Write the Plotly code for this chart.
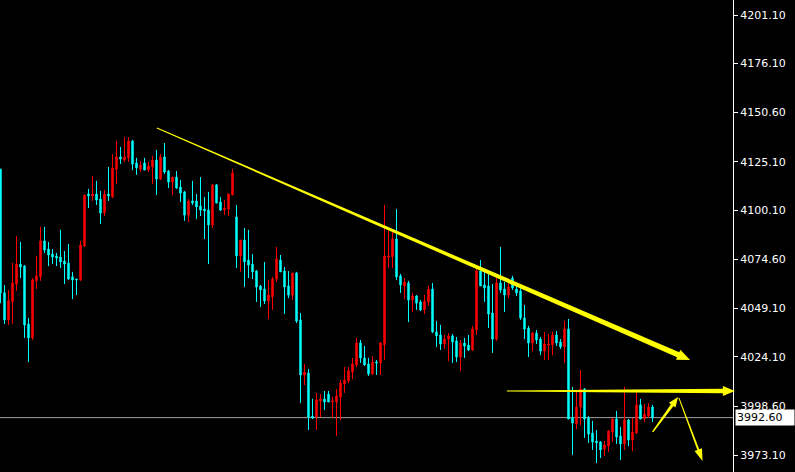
import plotly.graph_objects as go

# ---------------- data ----------------
opens = [4121.3, 4057.3, 4043.2, 4052.6, 4061.8, 4072.1, 4071.1, 4041.1, 4033.9, 4063.5,
         4065.5, 4084.1, 4079.9, 4077.3, 4076.3, 4075.8, 4073.7, 4072.6, 4065.5, 4064.4,
         4063.9, 4081.5, 4108.4, 4107.4, 4108.4, 4105.8, 4098.6, 4108.4, 4106.9, 4121.3,
         4127.6, 4126.0, 4127.1, 4135.9, 4124.5, 4121.3, 4124.5, 4120.8, 4122.4, 4126.0,
         4116.2, 4127.6, 4120.3, 4114.6, 4117.2, 4112.0, 4109.5, 4097.5, 4104.8, 4104.8,
         4102.2, 4100.6, 4100.1, 4092.4, 4113.1, 4104.3, 4100.1, 4100.6, 4107.9, 4096.5,
         4076.3, 4084.6, 4074.2, 4072.1, 4068.5, 4060.8, 4059.2, 4053.0, 4055.1, 4064.4,
         4074.2, 4068.5, 4060.8, 4056.1, 4067.5, 4043.2, 4014.7, 4015.7, 3993.4, 3992.9,
         4001.2, 4002.3, 4004.8, 4000.7, 4000.7, 4003.3, 4010.0, 4011.6, 4016.2, 4019.9,
         4031.3, 4023.5, 4020.4, 4015.2, 4021.4, 4020.9, 4030.2, 4075.8, 4075.8, 4085.1,
         4066.0, 4060.8, 4062.3, 4053.5, 4055.6, 4052.5, 4048.4, 4052.5, 4059.2, 4037.0,
         4035.4, 4030.7, 4033.3, 4034.9, 4032.3, 4024.0, 4031.3, 4030.2, 4027.6, 4038.0,
         4068.5, 4061.3, 4060.8, 4046.8, 4033.3, 4062.3, 4059.2, 4056.1, 4064.9, 4059.2,
         4058.2, 4044.2, 4039.0, 4031.3, 4036.4, 4033.3, 4027.1, 4030.2, 4030.2, 4035.4,
         4031.8, 4029.2, 4038.5, 3992.4, 3989.3, 3998.1, 4007.4, 3992.4, 3984.6, 3980.5,
         3980.0, 3976.4, 3977.9, 3985.2, 3991.9, 3983.1, 3979.0, 3991.4, 3981.0, 3984.6,
         3999.2, 3991.9, 3993.4, 3998.1]
highs = [4121.3, 4061.3, 4058.7, 4072.8, 4086.7, 4083.6, 4071.6, 4044.2, 4064.9, 4076.3,
         4091.4, 4091.4, 4083.6, 4079.9, 4077.9, 4089.8, 4078.9, 4082.5, 4068.1, 4064.4,
         4084.1, 4107.9, 4111.0, 4117.8, 4115.2, 4110.0, 4110.5, 4122.4, 4129.1, 4135.9,
         4132.8, 4137.9, 4137.9, 4136.4, 4127.1, 4125.5, 4127.1, 4125.0, 4128.1, 4131.2,
         4129.1, 4134.8, 4120.8, 4117.2, 4120.3, 4115.7, 4110.0, 4105.8, 4115.2, 4108.4,
         4117.2, 4106.9, 4109.5, 4113.6, 4113.6, 4106.9, 4105.3, 4108.9, 4121.3, 4102.7,
         4084.6, 4090.8, 4089.8, 4077.3, 4069.1, 4061.3, 4073.2, 4063.9, 4065.5, 4081.0,
         4076.8, 4070.6, 4068.5, 4067.5, 4068.1, 4046.8, 4020.4, 4017.8, 4002.3, 4005.4,
         4004.8, 4006.4, 4006.4, 4003.3, 4007.4, 4012.1, 4018.8, 4018.8, 4023.5, 4033.9,
         4032.8, 4029.7, 4023.5, 4024.5, 4022.5, 4031.8, 4102.7, 4089.3, 4088.7, 4100.6,
         4067.0, 4064.9, 4063.4, 4057.2, 4056.1, 4053.5, 4056.1, 4060.8, 4062.3, 4042.6,
         4040.6, 4035.4, 4036.4, 4035.9, 4034.4, 4032.8, 4033.9, 4035.4, 4040.1, 4071.6,
         4074.2, 4069.1, 4067.0, 4061.8, 4064.9, 4081.0, 4062.9, 4062.3, 4066.0, 4060.8,
         4060.8, 4050.9, 4040.1, 4037.0, 4038.0, 4034.4, 4037.0, 4035.9, 4037.0, 4037.5,
         4033.3, 4042.6, 4043.7, 4008.5, 4006.4, 4017.3, 4007.9, 3993.4, 3990.9, 3986.2,
         3980.5, 3980.5, 3986.2, 3992.4, 3996.1, 3987.8, 4008.5, 3991.9, 3992.4, 4005.9,
         4002.3, 3999.7, 4000.2, 3999.2]
lows = [4051.9, 4041.1, 4040.6, 4041.1, 4058.3, 4064.9, 4033.9, 4021.4, 4032.8, 4059.2,
        4063.4, 4077.9, 4071.1, 4072.1, 4071.1, 4070.1, 4061.8, 4063.9, 4054.0, 4056.1,
        4063.4, 4081.0, 4101.1, 4104.8, 4102.7, 4092.9, 4097.0, 4104.8, 4106.3, 4113.6,
        4123.9, 4125.0, 4125.0, 4120.8, 4118.3, 4119.8, 4120.8, 4119.8, 4113.6, 4107.9,
        4115.7, 4118.8, 4111.5, 4107.9, 4111.0, 4104.3, 4094.5, 4093.9, 4102.7, 4095.5,
        4097.0, 4085.1, 4072.1, 4090.8, 4103.7, 4099.6, 4097.5, 4097.0, 4107.9, 4070.1,
        4068.1, 4060.3, 4064.9, 4064.4, 4052.5, 4049.9, 4051.4, 4043.7, 4048.4, 4062.9,
        4068.1, 4046.3, 4054.5, 4053.5, 4041.6, 4000.2, 4009.5, 3986.2, 3991.9, 3986.2,
        3992.9, 3996.6, 4000.7, 3992.4, 3983.1, 3991.4, 4005.4, 4010.5, 4012.6, 4018.8,
        4020.9, 4019.4, 4014.2, 4014.7, 4014.7, 4014.7, 4022.5, 4070.1, 4070.1, 4063.9,
        4057.2, 4054.0, 4042.1, 4047.3, 4048.4, 4047.8, 4046.3, 4050.4, 4036.4, 4029.2,
        4027.6, 4028.2, 4021.9, 4020.9, 4021.4, 4016.8, 4023.5, 4027.1, 4027.1, 4035.4,
        4060.8, 4052.5, 4039.0, 4026.1, 4032.3, 4057.2, 4047.3, 4054.5, 4058.7, 4055.6,
        4043.2, 4033.3, 4024.0, 4027.1, 4030.7, 4025.0, 4022.5, 4022.5, 4025.0, 4029.7,
        4028.2, 4020.9, 3991.9, 3973.3, 3986.7, 3988.8, 3982.1, 3979.5, 3975.9, 3969.1,
        3971.7, 3972.7, 3974.8, 3980.0, 3979.0, 3970.7, 3975.9, 3977.9, 3975.3, 3984.1,
        3991.9, 3990.3, 3992.4, 3990.3]
closes = [4057.2, 4043.2, 4053.1, 4062.3, 4072.1, 4070.6, 4040.6, 4033.9, 4063.9, 4066.0,
          4084.1, 4079.4, 4076.8, 4075.8, 4075.3, 4073.2, 4072.1, 4064.4, 4063.9, 4063.9,
          4082.0, 4107.9, 4107.4, 4108.4, 4105.3, 4098.6, 4108.4, 4107.4, 4121.9, 4127.6,
          4126.5, 4127.6, 4135.9, 4123.9, 4121.9, 4123.4, 4120.8, 4122.9, 4126.0, 4116.2,
          4127.6, 4119.8, 4114.6, 4117.2, 4111.5, 4108.9, 4097.5, 4104.8, 4103.7, 4101.7,
          4100.1, 4099.6, 4092.4, 4113.1, 4103.7, 4100.1, 4101.1, 4108.4, 4119.3, 4076.3,
          4084.6, 4073.2, 4071.6, 4068.1, 4060.3, 4058.7, 4053.0, 4056.1, 4064.4, 4074.7,
          4068.1, 4060.3, 4056.1, 4067.5, 4042.6, 4014.7, 4016.2, 3992.9, 3992.4, 4001.8,
          4002.3, 4000.7, 4000.7, 4001.2, 4003.8, 4010.5, 4012.1, 4016.8, 4020.4, 4031.3,
          4023.5, 4019.9, 4015.2, 4021.4, 4020.9, 4031.3, 4076.3, 4076.3, 4085.1, 4065.5,
          4061.3, 4062.9, 4053.5, 4055.6, 4051.9, 4048.4, 4053.0, 4059.2, 4037.0, 4034.9,
          4030.7, 4033.3, 4034.9, 4031.8, 4024.0, 4031.3, 4029.7, 4027.6, 4038.5, 4068.5,
          4060.8, 4059.7, 4046.3, 4033.3, 4062.3, 4058.7, 4056.1, 4060.3, 4059.7, 4057.2,
          4044.2, 4038.5, 4031.3, 4036.4, 4032.8, 4027.1, 4030.7, 4030.7, 4035.4, 4031.3,
          4029.2, 4038.5, 3991.9, 3989.8, 3998.1, 4007.4, 3991.9, 3984.1, 3980.0, 3979.5,
          3975.9, 3978.4, 3985.7, 3991.9, 3982.6, 3979.0, 3991.4, 3981.0, 3985.2, 3999.2,
          3991.9, 3994.5, 3998.1, 3992.6]
bar_index = list(range(len(opens)))

tick_values = [4201.10, 4176.10, 4150.60, 4125.10, 4100.10, 4074.60, 4049.10, 4024.10, 3998.60, 3973.10]
tick_labels = ["%.2f" % v for v in tick_values]
last_price = 3992.60

# hand-drawn arrows: (start bar, start price, end bar, end price)
arrow_starts_x = [39.1, 126.6, 163.05, 169.6]
arrow_starts_y = [4142.6, 4006.4, 3985.2, 4002.8]
arrow_ends_x = [172.4, 183.6, 169.4, 175.5]
arrow_ends_y = [4022.5, 4006.4, 4003.3, 3970.2]

# ---------------- layout constants ----------------
W, H = 795, 472
PW, PH = 733, 472           # plot area in pixels
X_RANGE = [-0.125, 183.125]
Y_RANGE = [3964.45, 4208.87]

UP = "#ff0000"
DOWN = "#00ffff"
YELLOW = "#ffff00"

fig = go.Figure()
fig.add_trace(go.Candlestick(
    x=bar_index, open=opens, high=highs, low=lows, close=closes,
    increasing=dict(line=dict(color=UP, width=1), fillcolor=UP),
    decreasing=dict(line=dict(color=DOWN, width=1), fillcolor=DOWN),
    whiskerwidth=0, hoverinfo="skip", showlegend=False,
))


def to_px(xv, yv):
    px = (xv - X_RANGE[0]) / (X_RANGE[1] - X_RANGE[0]) * PW
    py = (Y_RANGE[1] - yv) / (Y_RANGE[1] - Y_RANGE[0]) * PH
    return px, py


def to_paper(px, py):
    return px / PW, 1 - py / PH


arrow_styles = [
    dict(w0=1.0, w1=5.5, hl=13, hw=5.5),
    dict(w0=1.2, w1=4.5, hl=12, hw=5.0),
    dict(w0=1.5, w1=3.2, hl=10, hw=4.0),
    dict(w0=1.0, w1=2.0, hl=12, hw=4.0),
]

shapes = []
for xs, ys, xe, ye, st in zip(arrow_starts_x, arrow_starts_y, arrow_ends_x, arrow_ends_y, arrow_styles):
    x0, y0 = to_px(xs, ys)
    x1, y1 = to_px(xe, ye)
    dx, dy = x1 - x0, y1 - y0
    ln = (dx * dx + dy * dy) ** 0.5
    ux, uy = dx / ln, dy / ln
    nx, ny = -uy, ux
    bx, by = x1 - ux * st["hl"], y1 - uy * st["hl"]
    pts = [
        (x0 + nx * st["w0"] / 2, y0 + ny * st["w0"] / 2),
        (bx + nx * st["w1"] / 2, by + ny * st["w1"] / 2),
        (bx + nx * st["hw"], by + ny * st["hw"]),
        (x1, y1),
        (bx - nx * st["hw"], by - ny * st["hw"]),
        (bx - nx * st["w1"] / 2, by - ny * st["w1"] / 2),
        (x0 - nx * st["w0"] / 2, y0 - ny * st["w0"] / 2),
    ]
    path = ""
    for i, (px, py) in enumerate(pts):
        qx, qy = to_paper(px, py)
        path += ("M" if i == 0 else "L") + "%.5f,%.5f" % (qx, qy)
    path += "Z"
    shapes.append(dict(type="path", path=path, xref="paper", yref="paper",
                       fillcolor=YELLOW, line=dict(width=0), layer="above"))

# current price line
shapes.insert(0, dict(type="line", xref="paper", yref="y", x0=0, x1=1,
                      y0=last_price, y1=last_price,
                      line=dict(color="#a0a0a0", width=1), layer="below"))

fig.update_layout(
    width=W, height=H,
    margin=dict(l=0, r=W - PW, t=0, b=0),
    paper_bgcolor="#000000", plot_bgcolor="#000000",
    boxgap=0.5,
    showlegend=False,
    shapes=shapes,
    xaxis=dict(range=X_RANGE, visible=False, showgrid=False, zeroline=False,
               rangeslider=dict(visible=False), fixedrange=True),
    yaxis=dict(range=Y_RANGE, side="right", showgrid=False, zeroline=False,
               showline=True, linecolor="#ffffff", linewidth=1,
               ticks="outside", ticklen=4, tickcolor="#ffffff", tickwidth=1,
               tickvals=tick_values, ticktext=tick_labels,
               tickfont=dict(family="DejaVu Sans", size=11, color="#ffffff"),
               fixedrange=True),
    annotations=[dict(
        x=1, xref="paper", xanchor="left", xshift=2,
        y=last_price, yref="y", yanchor="middle",
        text="%.2f" % last_price, showarrow=False, align="left",
        bgcolor="#ffffff", borderpad=1, width=56,
        font=dict(family="DejaVu Sans", size=11, color="#000000"),
    )],
)

fig.write_html("out.html")
